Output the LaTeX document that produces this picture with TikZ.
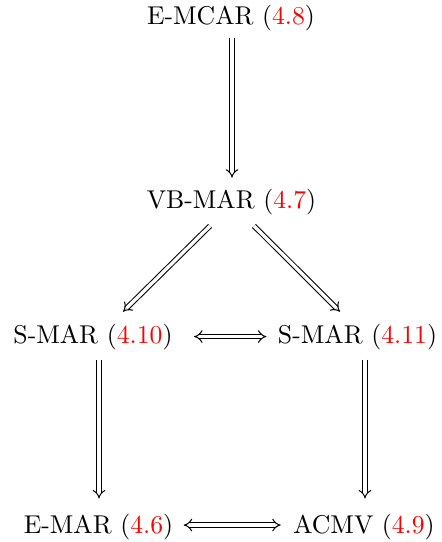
\documentclass[tikz,border=0pt]{standalone}
\usetikzlibrary{arrows.meta}
\begin{document}
\begin{tikzpicture}[x=0.3887pt,y=-0.3887pt,
  lab/.style={inner sep=0pt,anchor=base},
  imp/.style={double,double distance=1.3pt,line width=0.4pt,-{Implies}},
  bimp/.style={double,double distance=1.3pt,line width=0.4pt,{Implies}-{Implies}}]
\useasboundingbox (0,0) rectangle (441,542);
\node[lab] (emcar) at (231,25) {E-MCAR (\textcolor{red}{4.8})};
\node[lab] (vbmar) at (231.5,208) {VB-MAR (\textcolor{red}{4.7})};
\node[lab] (smarA) at (93,343) {S-MAR (\textcolor{red}{4.10})};
\node[lab] (smarB) at (357.5,343) {S-MAR (\textcolor{red}{4.11})};
\node[lab] (emar) at (98.5,533) {E-MAR (\textcolor{red}{4.6})};
\node[lab] (acmv) at (364,533) {ACMV (\textcolor{red}{4.9})};
\draw[imp] ([shift={(1,6)}]emcar.south) -- ([shift={(0.5,-10.5)}]vbmar.north);
\draw[imp] ([shift={(-21.5,11)}]vbmar.south) -- ([shift={(30,-11.5)}]smarA.north);
\draw[imp] ([shift={(22.5,11)}]vbmar.south) -- ([shift={(-17.5,-11.5)}]smarB.north);
\draw[bimp] ([shift={(21,0)}]smarA.east) -- ([shift={(-11,0)}]smarB.west);
\draw[imp] ([shift={(6,9.6)}]smarA.south) -- ([shift={(0.5,-14.7)}]emar.north);
\draw[imp] ([shift={(7.5,9.6)}]smarB.south) -- ([shift={(1,-14.7)}]acmv.north);
\draw[bimp] ([shift={(10,-1.5)}]emar.east) -- ([shift={(-12,-1.5)}]acmv.west);
\end{tikzpicture}
\end{document}
